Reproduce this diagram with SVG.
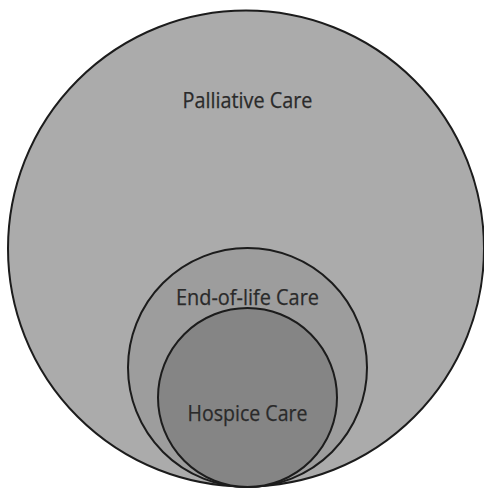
<svg xmlns="http://www.w3.org/2000/svg" width="484" height="489" viewBox="0 0 484 489">
<style>
.c{stroke:#1c1c1c;stroke-width:2}
.t{font-family:"Open Sans","Noto Sans","Liberation Sans",sans-serif;font-size:21.5px;fill:#2a2a2a;stroke:#2a2a2a;stroke-width:0.25;text-anchor:middle}
</style>
<rect width="484" height="489" fill="#ffffff"/>
<g id="palliative">
<circle class="c" cx="246" cy="248.5" r="238" fill="#ababab"/>
<text class="t" x="247.5" y="107.5" textLength="130" lengthAdjust="spacingAndGlyphs">Palliative Care</text>
</g>
<g id="end-of-life">
<circle class="c" cx="247.5" cy="367.5" r="119.5" fill="#9d9d9d"/>
<text class="t" x="247.5" y="304.5" textLength="143" lengthAdjust="spacingAndGlyphs">End-of-life Care</text>
</g>
<g id="hospice">
<circle class="c" cx="247.5" cy="397.5" r="89.5" fill="#858585"/>
<text class="t" x="247.5" y="420.5" textLength="120" lengthAdjust="spacingAndGlyphs">Hospice Care</text>
</g>
<g id="connectors"/>
</svg>
